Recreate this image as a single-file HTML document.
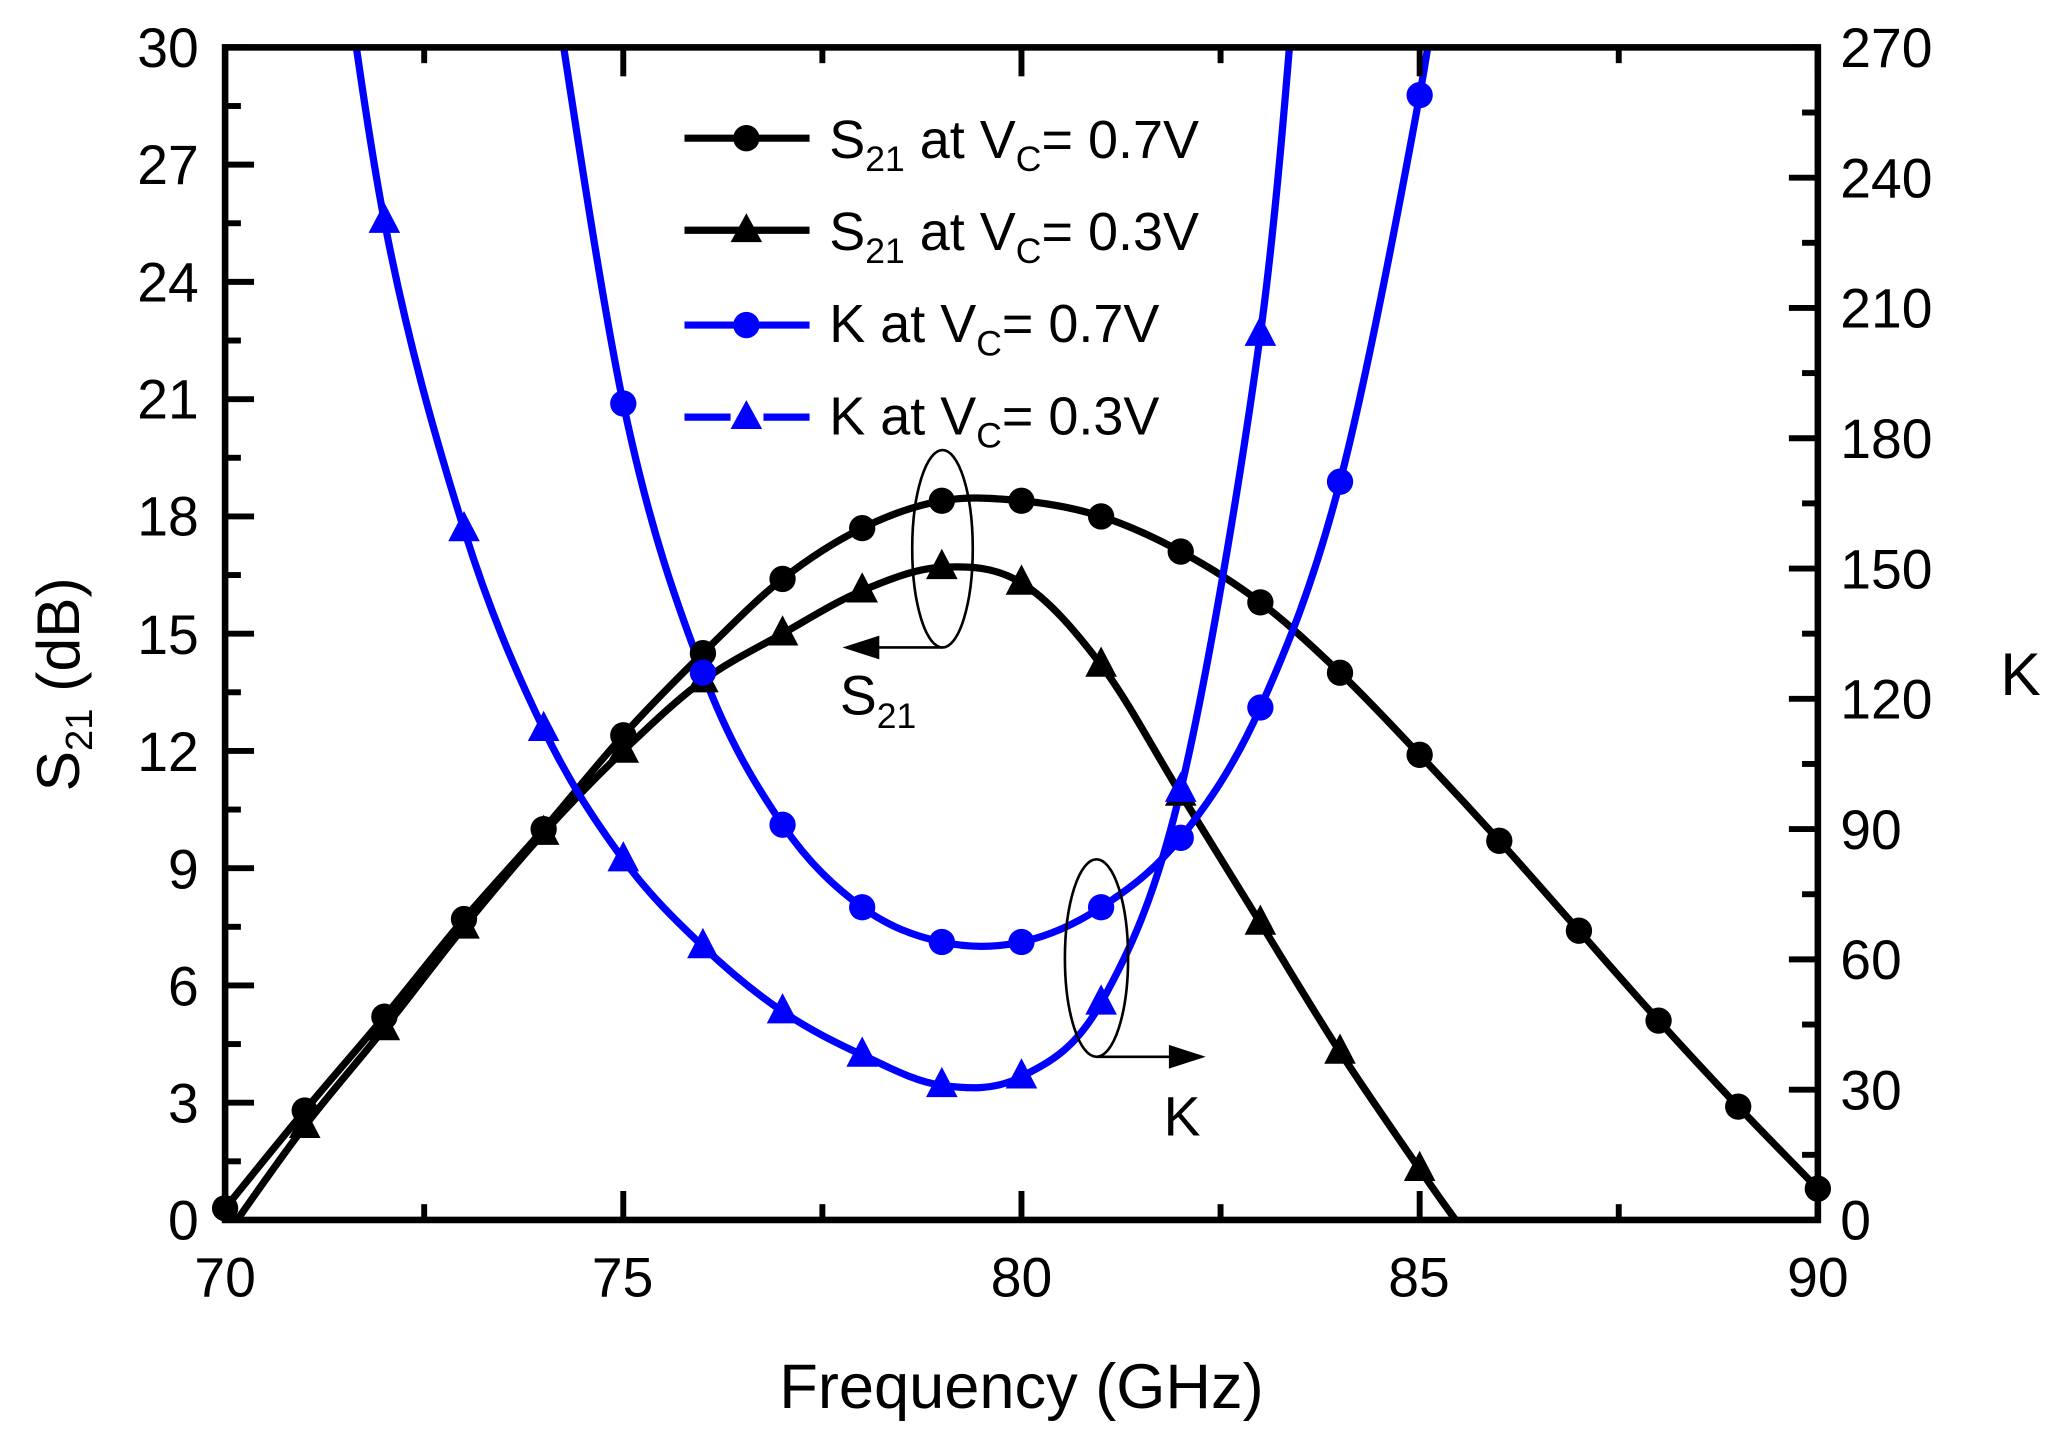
<!DOCTYPE html>
<html><head><meta charset="utf-8"><style>
html,body{margin:0;padding:0;background:#fff;}
svg{display:block;}
text{font-family:"Liberation Sans",Arial,sans-serif;}
</style></head><body>
<svg id="s" width="2064" height="1445" viewBox="0 0 1568 1098" preserveAspectRatio="none" xmlns="http://www.w3.org/2000/svg">
<rect width="1568" height="1098" fill="#fff"/>
<defs><clipPath id="c"><rect x="171" y="36" width="1210" height="891"/></clipPath></defs>
<g id="curves" clip-path="url(#c)"></g>
<g id="marks"></g>
<g id="ticks" stroke="#000" stroke-width="4.5"></g>
<rect x="171" y="36" width="1210" height="891" fill="none" stroke="#000" stroke-width="5"/>
<g font-size="42" text-anchor="end">
<text x="151" y="942">0</text><text x="151" y="853">3</text><text x="151" y="764">6</text><text x="151" y="675">9</text>
<text x="151" y="586">12</text><text x="151" y="497">15</text><text x="151" y="407">18</text><text x="151" y="318">21</text>
<text x="151" y="229">24</text><text x="151" y="140">27</text><text x="151" y="51">30</text>
</g>
<g font-size="42" text-anchor="start">
<text x="1398" y="942">0</text><text x="1398" y="843">30</text><text x="1398" y="744">60</text><text x="1398" y="645">90</text>
<text x="1398" y="546">120</text><text x="1398" y="447">150</text><text x="1398" y="348">180</text><text x="1398" y="249">210</text>
<text x="1398" y="150">240</text><text x="1398" y="51">270</text>
</g>
<g font-size="42" text-anchor="middle">
<text x="171" y="985">70</text><text x="473" y="985">75</text><text x="776" y="985">80</text><text x="1078" y="985">85</text><text x="1381" y="985">90</text>
</g>
<text x="776" y="1070" font-size="48" text-anchor="middle">Frequency (GHz)</text>
<text transform="translate(60,520) rotate(-90)" font-size="46" text-anchor="middle">S<tspan font-size="29" dy="10">21</tspan><tspan dy="-10"> (dB)</tspan></text>
<text x="1535" y="528" font-size="46" text-anchor="middle">K</text>
<g font-size="41">
<text x="630" y="120">S<tspan font-size="27" dy="10">21</tspan><tspan dy="-10"> at V</tspan><tspan font-size="27" dy="10">C</tspan><tspan dy="-10">= 0.7V</tspan></text>
<text x="630" y="190">S<tspan font-size="27" dy="10">21</tspan><tspan dy="-10"> at V</tspan><tspan font-size="27" dy="10">C</tspan><tspan dy="-10">= 0.3V</tspan></text>
<text x="630" y="260">K at V<tspan font-size="27" dy="10">C</tspan><tspan dy="-10">= 0.7V</tspan></text>
<text x="630" y="330">K at V<tspan font-size="27" dy="10">C</tspan><tspan dy="-10">= 0.3V</tspan></text>
</g>
<g stroke-width="5.5">
<line x1="520" y1="105" x2="615" y2="105" stroke="#000"/>
<line x1="520" y1="175" x2="615" y2="175" stroke="#000"/>
<line x1="520" y1="247" x2="615" y2="247" stroke="#0000ff"/>
<line x1="520" y1="317" x2="555" y2="317" stroke="#0000ff"/>
<line x1="580" y1="317" x2="615" y2="317" stroke="#0000ff"/>
</g>
<circle cx="567" cy="105" r="10" fill="#000"/>
<polygon points="567,162 579,184 555,184" fill="#000"/>
<circle cx="567" cy="247" r="10" fill="#0000ff"/>
<polygon points="567,304 579,326 555,326" fill="#0000ff"/>
<ellipse cx="716" cy="417" rx="23" ry="75" fill="none" stroke="#000" stroke-width="2"/>
<line x1="716" y1="492" x2="665" y2="492" stroke="#000" stroke-width="2"/>
<polygon points="640,492 668,483 668,501" fill="#000"/>
<text x="638" y="543" font-size="42">S<tspan font-size="27" dy="10">21</tspan></text>
<ellipse cx="833" cy="728" rx="24" ry="75" fill="none" stroke="#000" stroke-width="2"/>
<line x1="833" y1="803" x2="890" y2="803" stroke="#000" stroke-width="2"/>
<polygon points="916,803 888,794 888,812" fill="#000"/>
<text x="884" y="863" font-size="42">K</text>
</svg>
<script>
var X=f=>171+(f-70)*60.5, YL=v=>927-v*29.7, YK=v=>927-v*3.3;
function path(pts){var d="M"+pts[0][0]+","+pts[0][1];for(var i=0;i<pts.length-1;i++){var p0=pts[i-1]||pts[i],p1=pts[i],p2=pts[i+1],p3=pts[i+2]||p2;
d+=" C"+(p1[0]+(p2[0]-p0[0])/6)+","+(p1[1]+(p2[1]-p0[1])/6)+" "+(p2[0]-(p3[0]-p1[0])/6)+","+(p2[1]-(p3[1]-p1[1])/6)+" "+p2[0]+","+p2[1];}return d;}
var NS="http://www.w3.org/2000/svg",C=document.getElementById("curves"),M=document.getElementById("marks"),T=document.getElementById("ticks");
function el(p,t,a){var e=document.createElementNS(NS,t);for(var k in a)e.setAttribute(k,a[k]);p.appendChild(e);return e;}
var s07=[0.3,2.8,5.2,7.7,10.0,12.4,14.5,16.4,17.7,18.4,18.4,18.0,17.1,15.8,14.0,11.9,9.7,7.4,5.1,2.9,0.8].map((v,i)=>[X(70+i),YL(v)]);
var s03=[[70.15,0],[71,2.4],[72,4.9],[73,7.5],[74,9.9],[75,12.0],[76,13.8],[77,15.0],[78,16.1],[79,16.7],[80,16.3],[81,14.2],[82,10.9],[83,7.6],[84,4.3],[85,1.3],[85.45,0]].map(p=>[X(p[0]),YL(p[1])]);
var k07=[[74.0,300],[75,188],[76,126],[77,91],[78,72],[79,64],[80,64],[81,72],[82,88],[83,118],[84,170],[85,259],[85.3,300]].map(p=>[X(p[0]),YK(p[1])]);
var k03=[[71.2,330],[72,230],[73,159],[74,113],[75,83],[76,63],[77,48],[78,38],[79,31],[80,33],[81,50],[82,99],[83,204],[83.5,300]].map(p=>[X(p[0]),YK(p[1])]);
[[s07,"#000"],[s03,"#000"],[k07,"#0000ff"],[k03,"#0000ff"]].forEach(a=>el(C,"path",{d:path(a[0]),fill:"none",stroke:a[1],"stroke-width":5.5}));
function circ(p,c){el(M,"circle",{cx:p[0],cy:p[1],r:10,fill:c});}
function tri(p,c){el(M,"polygon",{points:p[0]+","+(p[1]-14)+" "+(p[0]+12)+","+(p[1]+9)+" "+(p[0]-12)+","+(p[1]+9),fill:c});}
s07.forEach(p=>circ(p,"#000"));s03.slice(1,16).forEach(p=>tri(p,"#000"));
k07.slice(1,12).forEach(p=>circ(p,"#0000ff"));k03.slice(1,13).forEach(p=>tri(p,"#0000ff"));
for(var i=0;i<=20;i++){var y=927-i*891/20,L=i%2?12:22;el(T,"line",{x1:171,y1:y,x2:171+L,y2:y});}
for(var i=0;i<=18;i++){var y=927-i*891/18,L=i%2?12:22;el(T,"line",{x1:1381,y1:y,x2:1381-L,y2:y});}
for(var i=0;i<=8;i++){var x=171+i*1210/8,L=i%2?12:22;el(T,"line",{x1:x,y1:927,x2:x,y2:927-L});el(T,"line",{x1:x,y1:36,x2:x,y2:36+L});}
</script>
</body></html>
